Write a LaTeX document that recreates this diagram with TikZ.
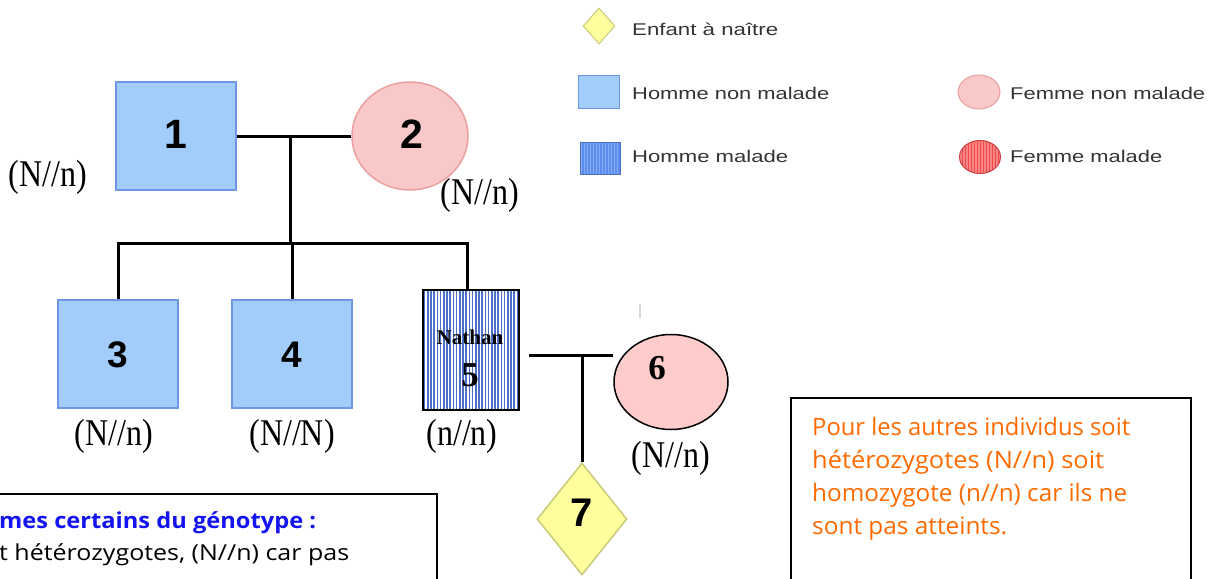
\documentclass[tikz,border=0pt]{standalone}
\usepackage{fontspec}
\usepackage{graphicx}
\setmainfont{Liberation Serif}
\newfontfamily\arialf{Liberation Sans}
\newfontfamily\comicf{Open Sans}
\usetikzlibrary{shapes.geometric,backgrounds}
\definecolor{sqfill}{HTML}{A2CDFA}
\definecolor{sqborder}{HTML}{6F95E6}
\definecolor{pinkfill}{HTML}{F9C8C8}
\definecolor{pinkborder}{HTML}{EBA0A0}
\definecolor{sixfill}{HTML}{FFCCCC}
\definecolor{yelfill}{HTML}{FFFF9E}
\definecolor{yelborder}{HTML}{C9C97A}
\definecolor{stripeblue}{HTML}{4C6FC9}
\definecolor{legblue}{HTML}{5B8DEF}
\definecolor{legblueline}{HTML}{8AADF5}
\definecolor{legred}{HTML}{F04A4A}
\definecolor{legredline}{HTML}{F98585}
\definecolor{orangetxt}{HTML}{FF6A00}
\definecolor{bluetxt}{HTML}{1414F0}
\definecolor{legtxt}{HTML}{333333}
\newcommand\fw[2]{\resizebox{#1}{\height}{#2}}
\newcommand\gt[1]{\scalebox{1}[1.18]{#1}}
\tikzset{
  ped/.style={line width=3pt, black},
  boxline/.style={line width=2.5pt, black},
  sq/.style={draw=sqborder, fill=sqfill, line width=1.5pt, minimum width=120pt, minimum height=108pt, inner sep=0},
  stripes/.style 2 args={path picture={\foreach \k in {0,...,45}{\fill[#1] ([xshift=\k*#2 pt+0.8pt]path picture bounding box.south west) rectangle ++(0.5*#2 pt,200pt);}}},
  bignum/.style={font={\arialf\bfseries\fontsize{41}{43}\selectfont}, inner sep=0},
  midnum/.style={font={\arialf\bfseries\fontsize{37}{39}\selectfont}, inner sep=0},
  timenum/.style={font={\bfseries\fontsize{35}{37}\selectfont}, inner sep=0},
  geno/.style={font={\fontsize{32}{34}\selectfont}, inner sep=0},
  leg/.style={anchor=west, font={\arialf\fontsize{17}{19}\selectfont}, text=legtxt, inner sep=0},
  otxt/.style={anchor=base west, font={\comicf\fontsize{24}{26}\selectfont}, text=orangetxt, inner sep=0},
  ltxt/.style={anchor=base west, font={\comicf\fontsize{22}{24}\selectfont}, inner sep=0}
}
\begin{document}
\begin{tikzpicture}[x=1pt,y=-1pt]
\useasboundingbox (0,0) rectangle (1220,578);
\clip (0,0) rectangle (1220,578);

% pedigree individuals
\node[sq] (p1) at (176,136) {};
\node[ellipse, draw=pinkborder, fill=pinkfill, line width=1.5pt, minimum width=116pt, minimum height=108pt, inner sep=0] (p2) at (410,136) {};
\node[sq] (p3) at (118,354) {};
\node[sq] (p4) at (292,354) {};
\node[draw=black, line width=2pt, fill=white, stripes={stripeblue}{3.2}, minimum width=96pt, minimum height=120pt, inner sep=0] (p5) at (471,350) {};
\node[ellipse, draw=black, fill=sixfill, line width=1.5pt, minimum width=114pt, minimum height=95pt, inner sep=0] (p6) at (671,382) {};
\node[diamond, draw=yelborder, fill=yelfill, line width=1.5pt, minimum width=90pt, minimum height=112pt, inner sep=0] (p7) at (582,519) {};

% numbers
\node[bignum] (t1) at (176,134) {1};
\node[bignum] (t2) at (412,134) {2};
\node[midnum] (t3) at (118,355) {3};
\node[midnum] (t4) at (292,355) {4};
\node[font={\bfseries\fontsize{21}{22}\selectfont}, inner sep=0] (tn) at (470,337) {Nathan};
\node[timenum] (t5) at (470,375) {5};
\node[timenum] (t6) at (657,368) {6};
\node[font={\arialf\bfseries\fontsize{40}{42}\selectfont}, inner sep=0] (t7) at (582,513) {7};

% connectors
\coordinate (m12) at (290,136);
\coordinate (s12) at (290,243);
\coordinate (m56) at (582,355);
\begin{scope}[on background layer]
\draw[ped] (p1.east) -- (p2.west);
\draw[ped] (m12) -- (s12);
\draw[ped] (p3.north) |- (s12) -| ([xshift=-4pt]p5.north);
\draw[ped] (p4.north) -- (p4.north |- s12);
\draw[ped] ([xshift=9pt]p5.east |- m56) -- (p6.west |- m56);
\draw[ped] (m56) -- (p7.north);
\end{scope}
\draw[gray!30, line width=1.5pt] (640,304) -- (640,318);

% genotypes
\node[geno] (g1) at (48,177) {\gt{(N//n)}};
\node[geno] (g2) at (480,195) {\gt{(N//n)}};
\node[geno] (g3) at (114,436) {\gt{(N//n)}};
\node[geno] (g4) at (292,436) {\gt{(N//N)}};
\node[geno] (g5) at (462,436) {\gt{(n//n)}};
\node[geno] (g6) at (671,458) {\gt{(N//n)}};

% legend
\node[diamond, draw=yelborder, fill=yelfill, line width=1pt, minimum width=32pt, minimum height=36pt, inner sep=0] (l7) at (599,26) {};
\node[draw=sqborder, fill=sqfill, line width=1pt, minimum width=41pt, minimum height=33pt, inner sep=0] (lh) at (598.5,91.5) {};
\node[draw=legblue!80!black, fill=legblue, stripes={legblueline}{3}, line width=1pt, minimum width=40pt, minimum height=32pt, inner sep=0] (lhm) at (600,158) {};
\node[ellipse, draw=pinkborder, fill=pinkfill, line width=1pt, minimum width=42pt, minimum height=34pt, inner sep=0] (lf) at (979,92) {};
\node[ellipse, draw=legred!85!black, fill=legred, stripes={legredline}{3}, line width=1pt, minimum width=41pt, minimum height=33pt, inner sep=0] (lfm) at (980,157) {};
\node[leg] (tl7) at (632,29) {\fw{146pt}{Enfant à naître}};
\node[leg] (tlh) at (632,93) {\fw{197pt}{Homme non malade}};
\node[leg] (tlhm) at (632,156) {\fw{156pt}{Homme malade}};
\node[leg] (tlf) at (1010,93) {\fw{195pt}{Femme non malade}};
\node[leg] (tlfm) at (1010,156) {\fw{152pt}{Femme malade}};

% right text box
\draw[boxline] (791,398) rectangle (1191,600);
\node[otxt] (o1) at (812,435) {\fw{318pt}{Pour les autres individus soit}};
\node[otxt] (o2) at (812,468) {\fw{292pt}{hétérozygotes (N//n) soit}};
\node[otxt] (o3) at (812,501) {\fw{315pt}{homozygote (n//n) car ils ne}};
\node[otxt] (o4) at (812,534) {\fw{195pt}{sont pas atteints.}};

% left text box
\draw[boxline] (-10,494) rectangle (437,600);
\node[ltxt, text=bluetxt, font={\comicf\bfseries\fontsize{22}{24}\selectfont}] (b1) at (-1,528) {\fw{317pt}{mes certains du génotype :}};
\node[ltxt, text=black] (b2) at (-1,560) {\fw{350pt}{t hétérozygotes, (N//n) car pas}};
\end{tikzpicture}
\end{document}
